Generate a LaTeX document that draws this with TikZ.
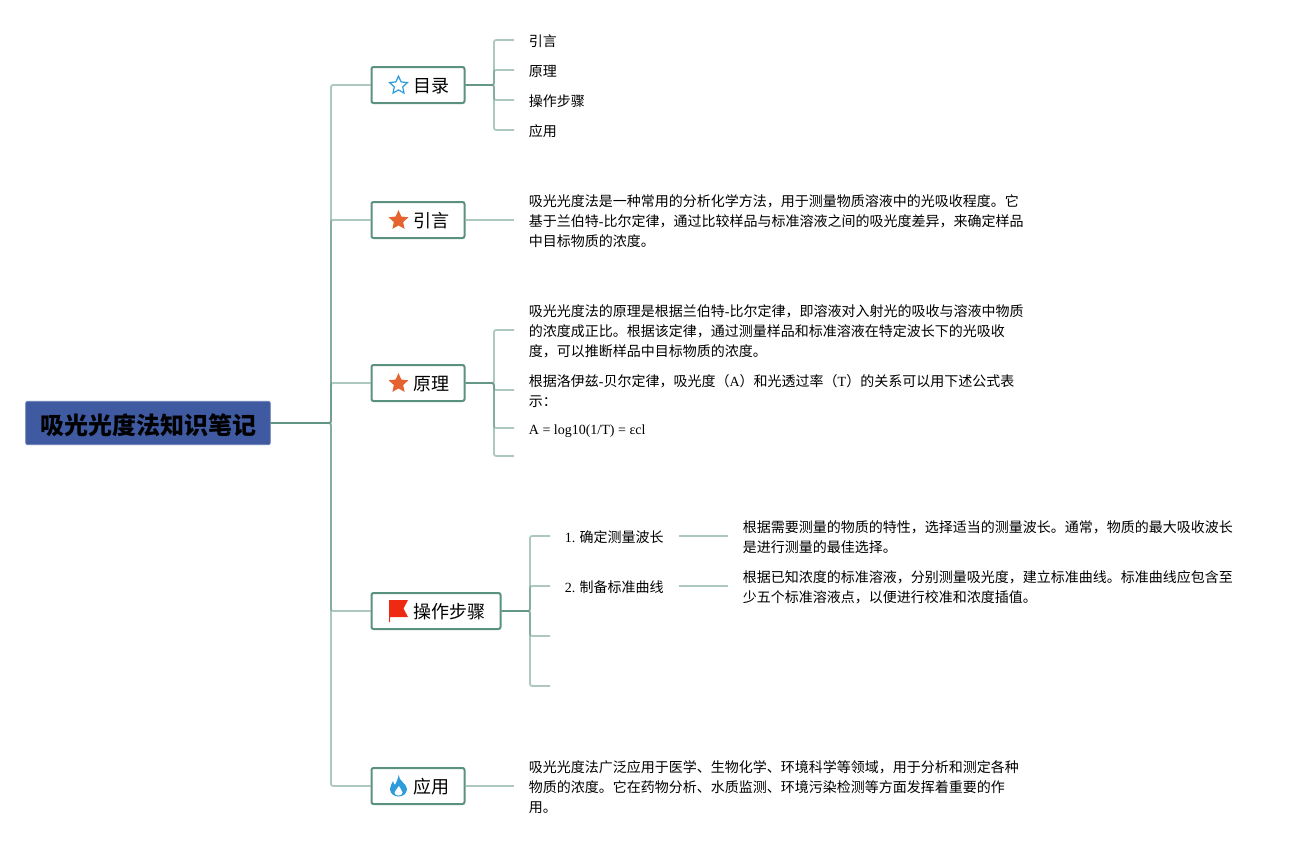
\documentclass[tikz,border=0pt]{standalone}
\usepackage{fontspec}
\setmainfont{Liberation Serif}
\newfontfamily\cjk{Noto Sans CJK SC}
\usetikzlibrary{shapes.geometric}
\definecolor{linegreen}{HTML}{5B9180}
\definecolor{rootblue}{HTML}{3F5AA0}
\definecolor{iconblue}{HTML}{2E9BDC}
\definecolor{iconorange}{HTML}{E4632F}
\definecolor{iconred}{HTML}{EE2A12}

\begin{document}
\begin{tikzpicture}[x=0.75pt,y=-0.75pt,
    rootbox/.style={rectangle, draw=rootblue!80!white, line width=0.6pt, fill=rootblue, rounded corners=1.5pt,
      minimum width=183.5pt, minimum height=32.5pt, text height=19.2pt, text depth=2.5pt,
      font=\cjk\fontsize{18}{22}\selectfont\bfseries},
    branch/.style={rectangle, draw=linegreen, line width=1.5pt, fill=white, rounded corners=1.5pt, anchor=west,
      minimum height=27pt, inner xsep=11.25pt, inner ysep=0pt, text height=13.3pt, text depth=1.5pt,
      font=\cjk\fontsize{13.5}{16}\selectfont, execute at begin node=\hspace*{20.25pt}},
    leaf/.style={rectangle, anchor=west, inner xsep=11pt, inner ysep=0pt, align=left,
      font=\cjk\fontsize{10.5}{15}\selectfont},
    link/.style={draw=linegreen, draw opacity=0.5, line width=1.3pt, rounded corners=1.5pt},
    staricon/.style={star, star points=5, star point ratio=2.1, inner sep=0pt, minimum size=15.5pt}
    ]
    \useasboundingbox (0,0) rectangle (1303,846);
    % trunk and spines
    \coordinate (trunk) at (331,423);
    \coordinate (spinemulu) at (494,85);
    \coordinate (spineyuanli) at (494,383);
    \coordinate (spinebuzhou) at (530,611);
    \coordinate (yuanliend) at (514,456);
    \coordinate (buzhouc) at (550,636);
    \coordinate (buzhoud) at (550,686);

    \node[rootbox] (root) at (148,423) {吸光光度法知识笔记};
    \node[branch] (mulu) at (370.5,85) {目录};
    \node[branch] (yinyan) at (370.5,220) {引言};
    \node[branch] (yuanli) at (370.5,383) {原理};
    \node[branch] (buzhou) at (370.5,611) {操作步骤};
    \node[branch] (yingyong) at (370.5,786) {应用};

    % leaves
    \node[leaf] (mulua) at (514,41) {引言};
    \node[leaf] (mulub) at (514,71) {原理};
    \node[leaf] (muluc) at (514,101) {操作步骤};
    \node[leaf] (mulud) at (514,131) {应用};
    \node[leaf] (yinyana) at (514,221) {吸光光度法是一种常用的分析化学方法，用于测量物质溶液中的光吸收程度。它\\
      基于兰伯特{\rmfamily -}比尔定律，通过比较样品与标准溶液之间的吸光度差异，来确定样品\\
      中目标物质的浓度。};
    \node[leaf] (yuanlia) at (514,331) {吸光光度法的原理是根据兰伯特{\rmfamily -}比尔定律，即溶液对入射光的吸收与溶液中物质\\
      的浓度成正比。根据该定律，通过测量样品和标准溶液在特定波长下的光吸收\\
      度，可以推断样品中目标物质的浓度。};
    \node[leaf] (yuanlib) at (514,391) {根据洛伊兹{\rmfamily -}贝尔定律，吸光度（{\rmfamily A}）和光透过率（{\rmfamily T}）的关系可以用下述公式表\\
      示：};
    \node[leaf] (yuanlic) at (514,431) {\rmfamily A = log10(1/T) = εcl};
    \node[leaf] (buzhoua) at (550,537) {{\rmfamily 1.} 确定测量波长};
    \node[leaf] (buzhoub) at (550,587) {{\rmfamily 2.} 制备标准曲线};
    \node[leaf] (buzhouax) at (728,537) {根据需要测量的物质的特性，选择适当的测量波长。通常，物质的最大吸收波长\\
      是进行测量的最佳选择。};
    \node[leaf] (buzhoubx) at (728,587) {根据已知浓度的标准溶液，分别测量吸光度，建立标准曲线。标准曲线应包含至\\
      少五个标准溶液点，以便进行校准和浓度插值。};
    \node[leaf] (yingyonga) at (514,787) {吸光光度法广泛应用于医学、生物化学、环境科学等领域，用于分析和测定各种\\
      物质的浓度。它在药物分析、水质监测、环境污染检测等方面发挥着重要的作\\
      用。};

    % connectors
    \draw[link] (root.east) -- (trunk) |- (mulu.west);
    \draw[link] (root.east) -- (trunk) |- (yinyan.west);
    \draw[link] (root.east) -- (trunk) |- (yuanli.west);
    \draw[link] (root.east) -- (trunk) |- (buzhou.west);
    \draw[link] (root.east) -- (trunk) |- (yingyong.west);
    \draw[link] (mulu.east) -- (spinemulu) |- ([yshift=0.75pt]mulua.west);
    \draw[link] (mulu.east) -- (spinemulu) |- ([yshift=0.75pt]mulub.west);
    \draw[link] (mulu.east) -- (spinemulu) |- ([yshift=0.75pt]muluc.west);
    \draw[link] (mulu.east) -- (spinemulu) |- ([yshift=0.75pt]mulud.west);
    \draw[link] (yinyan.east) -- ([yshift=0.75pt]yinyana.west);
    \draw[link] (yuanli.east) -- (spineyuanli) |- ([yshift=0.75pt]yuanlia.west);
    \draw[link] (yuanli.east) -- (spineyuanli) |- ([yshift=0.75pt]yuanlib.west);
    \draw[link] (yuanli.east) -- (spineyuanli) |- ([yshift=2.25pt]yuanlic.west);
    \draw[link] (yuanli.east) -- (spineyuanli) |- (yuanliend);
    \draw[link] (buzhou.east) -- (spinebuzhou) |- ([yshift=0.75pt]buzhoua.west);
    \draw[link] (buzhou.east) -- (spinebuzhou) |- ([yshift=0.75pt]buzhoub.west);
    \draw[link] (buzhou.east) -- (spinebuzhou) |- (buzhouc);
    \draw[link] (buzhou.east) -- (spinebuzhou) |- (buzhoud);
    \draw[link] ([yshift=0.75pt]buzhoua.east) -- ([yshift=0.75pt]buzhouax.west);
    \draw[link] ([yshift=0.75pt]buzhoub.east) -- ([yshift=0.75pt]buzhoubx.west);
    \draw[link] (yingyong.east) -- ([yshift=0.75pt]yingyonga.west);

    % icons
    \node[staricon, draw=iconblue, line width=0.9pt, minimum size=14pt] (staropen) at (398.5,85.5) {};
    \node[staricon, fill=iconorange] (staryinyan) at (398.5,220.5) {};
    \node[staricon, fill=iconorange] (staryuanli) at (398.5,383.5) {};
    \fill[iconred] (389,600) -- (408,600) -- (403.5,608.5) -- (408,617) -- (390,617) -- (390,622) -- (389,622) -- cycle;
    \fill[iconblue] (398.5,775) .. controls (399,781) and (407,784) .. (407,789)
      .. controls (407,793.5) and (403,796.5) .. (398.5,796.5)
      .. controls (394,796.5) and (390,793.5) .. (390,789)
      .. controls (390,786) and (392,783.5) .. (393,781)
      .. controls (393.5,783) and (394,784) .. (395,785)
      .. controls (396.5,782) and (398,779) .. (398.5,775) -- cycle;
    \fill[white] (399,786) .. controls (399.5,788.5) and (402.5,790) .. (402.5,792.5)
      .. controls (402.5,794.5) and (400.5,795.5) .. (398.5,795.5)
      .. controls (396.5,795.5) and (394.5,794.5) .. (394.5,792.5)
      .. controls (394.5,790) and (398,789) .. (399,786) -- cycle;
  \end{tikzpicture}
\end{document}
